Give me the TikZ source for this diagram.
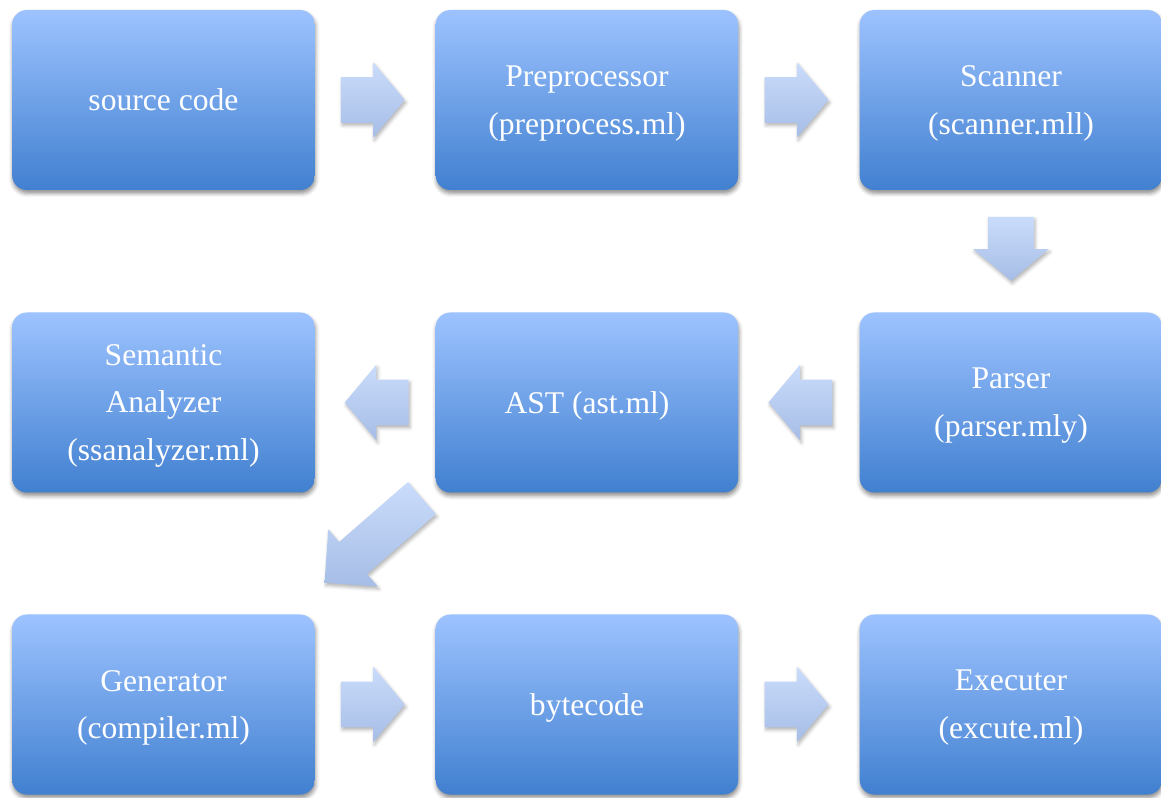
\documentclass[tikz,border=0pt]{standalone}
\usepackage{fontspec}
\setmainfont{Liberation Serif}
\usetikzlibrary{shapes.arrows,shadows.blur,calc}
\definecolor{boxtop}{HTML}{9DC3FF}
\definecolor{boxbot}{HTML}{4180D0}
\definecolor{arrtop}{HTML}{CADCFB}
\definecolor{arrbot}{HTML}{A6BDE6}

\tikzset{
  stage/.style={rounded corners=11pt, minimum width=227pt, minimum height=135pt,
    top color=boxtop, bottom color=boxbot, text=white, align=center,
    font=\fontsize{23.7}{35.8}\selectfont, text depth=0pt,
    blur shadow={shadow xshift=0.5pt, shadow yshift=-2.5pt, shadow blur radius=3pt, shadow opacity=45}},
  flow/.style={single arrow, inner xsep=0pt, inner ysep=16.9pt, minimum height=48pt,
    single arrow head extend=11.2pt, single arrow tip angle=100,
    top color=arrtop, bottom color=arrbot,
    blur shadow={shadow xshift=1pt, shadow yshift=-2pt, shadow blur radius=2.5pt, shadow opacity=30}}
}

\begin{document}
\begin{tikzpicture}[x=0.75pt,y=0.75pt]
  \useasboundingbox (0,0) rectangle (1161,797);

  % top row
  \node[stage] (src)  at (163.5,697) {source code};
  \node[stage] (pre)  at (587,697)   {Preprocessor\\(preprocess.ml)};
  \node[stage] (scan) at (1011,697)  {Scanner\\(scanner.mll)};

  % middle row
  \node[stage] (sem) at (163.5,394.5) {Semantic\\Analyzer\\(ssanalyzer.ml)};
  \node[stage] (ast) at (587,394.5)   {AST (ast.ml)};
  \node[stage] (par) at (1011,394.5)  {Parser\\(parser.mly)};

  % bottom row
  \node[stage] (gen)  at (163.5,92.5) {Generator\\(compiler.ml)};
  \node[stage] (byte) at (587,92.5)   {bytecode};
  \node[stage] (exe)  at (1011,92.5)  {Executer\\(excute.ml)};

  % block arrows
  \node[flow] (f1) at ($(src.east)!0.5!(pre.west)+(-12,0)$) {};
  \node[flow] (f2) at ($(pre.east)!0.5!(scan.west)+(-12,0)$) {};
  \node[flow, rotate=270] (f3) at ($(scan.south)!0.5!(par.north)+(0,12)$) {};
  \node[flow, rotate=180] (f4) at ($(par.west)!0.5!(ast.east)+(11,0)$) {};
  \node[flow, rotate=180] (f5) at ($(ast.west)!0.5!(sem.east)+(11,0)$) {};
  \node[flow, rotate=221, minimum height=96.75pt, inner ysep=15.75pt,
        single arrow head extend=12.4pt, single arrow tip angle=90] (f6)
        at ($(ast.south west)!0.5!(gen.north east)+(6,20)$) {};
  \node[flow] (f7) at ($(gen.east)!0.5!(byte.west)+(-12,0)$) {};
  \node[flow] (f8) at ($(byte.east)!0.5!(exe.west)+(-12,0)$) {};
\end{tikzpicture}
\end{document}
